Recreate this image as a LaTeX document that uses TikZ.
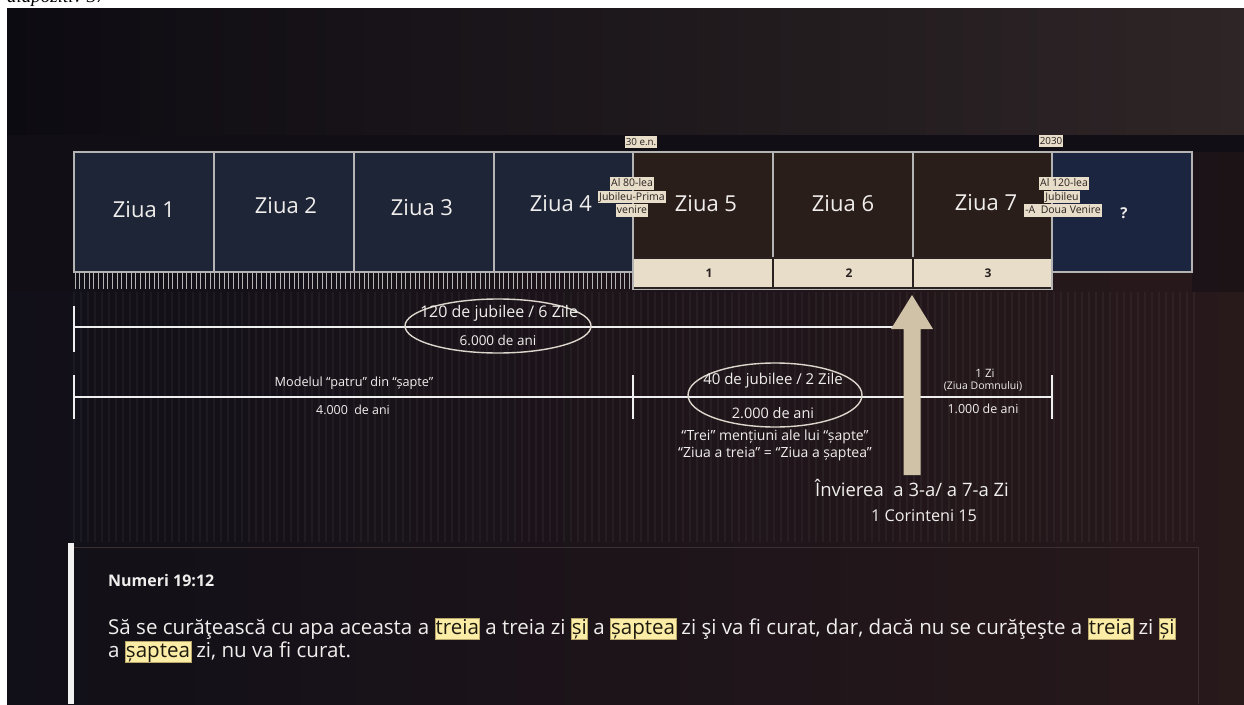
\documentclass[tikz,border=0pt]{standalone}
\usepackage{fontspec}
\setmainfont{Open Sans}
\newfontfamily\serifit{Liberation Serif}
\usetikzlibrary{shapes.geometric}
\definecolor{pagewhite}{HTML}{FFFFFF}
\definecolor{topleft}{HTML}{0D0B12}
\definecolor{topright}{HTML}{2E2526}
\definecolor{bandcol}{HTML}{110F15}
\definecolor{lowleft}{HTML}{110F18}
\definecolor{lowright}{HTML}{28191B}
\definecolor{navybox}{HTML}{1E2537}
\definecolor{brownbox}{HTML}{2A1E1B}
\definecolor{qbox}{HTML}{1C2540}
\definecolor{boxline}{HTML}{B4B4B4}
\definecolor{beige}{HTML}{E7DDC9}
\definecolor{tagtext}{HTML}{2A2220}
\definecolor{arrowcol}{HTML}{CFC2A6}
\definecolor{linecol}{HTML}{EEEEEE}
\definecolor{ellcol}{HTML}{DCD6CC}
\definecolor{txtcol}{HTML}{F0EEEC}
\definecolor{quoteline}{HTML}{3A3031}
\definecolor{hlfill}{HTML}{FBEDA6}
\definecolor{hlborder}{HTML}{B9A66A}
\definecolor{hltext}{HTML}{1E1A10}
\newcommand\hlw[1]{{\setlength{\fboxsep}{0.5pt}\setlength{\fboxrule}{0.5pt}\fcolorbox{hlborder}{hlfill}{\color{hltext}\vphantom{Şy}#1}}}
\newcommand\fs[1]{\fontsize{#1}{#1}\selectfont}
\begin{document}
\begin{tikzpicture}[x=1pt,y=-1pt,
  daybox/.style={draw=boxline,line width=1.3pt,inner sep=0pt,minimum width=140pt},
  bluebox/.style={daybox,fill=navybox,minimum height=120pt},
  brownday/.style={daybox,fill=brownbox,minimum height=106pt},
  cell/.style={draw=tagtext,line width=1.2pt,fill=beige,inner sep=0pt,minimum width=140pt,minimum height=30pt},
  daylabel/.style={text=txtcol,font=\fs{22}},
  tag/.style={fill=beige,text=tagtext,inner xsep=1pt,inner ysep=0.3pt,text height=9pt,text depth=2.8pt,font=\fs{10.5}},
  smalltag/.style={tag,font=\fs{9.8}},
  wline/.style={draw=linecol,line width=2.4pt},
  tick/.style={draw=linecol,line width=2pt},
  ell/.style={draw=ellcol,line width=1.4pt,ellipse,inner sep=0pt},
  lbl/.style={text=txtcol,inner sep=0pt},
  ruler/.style={draw=boxline,line width=0.8pt},
  stripe/.style={draw=white,opacity=0.04,line width=1.2pt}]
\useasboundingbox (0,0) rectangle (1244,704);
% background
\fill[pagewhite] (0,0) rectangle (1244,704);
\node[anchor=base west,inner sep=0pt,font=\serifit\itshape\fs{19}] (slidetitle) at (7,2.5) {diapozitiv 37};
\fill[left color=lowleft,right color=lowright] (7,8) rectangle (1244,704);
\fill[left color=topleft,right color=topright] (7,8) rectangle (1244,135);
\fill[bandcol] (7,135) rectangle (1244,152);
\fill[bandcol,opacity=0.7] (7,152) rectangle (74,292);
\fill[bandcol,opacity=0.5] (1192,152) rectangle (1244,292);
% stripes
\foreach \i in {0,...,160} \draw[stripe] ({74+7*\i},292) -- ++(0,250);
% ruler
\foreach \i in {0,...,119} \draw[ruler] ({75+4.66*\i},273) -- ++(0,16);
% day boxes
\node[bluebox] (d1) at (144,212) {};
\node[bluebox] (d2) at (284,212) {};
\node[bluebox] (d3) at (424,212) {};
\node[bluebox,minimum width=139pt] (d4) at (563.5,212) {};
\node[brownday] (d5) at (703,205) {};
\node[brownday] (d6) at (843,205) {};
\node[brownday,minimum width=139pt] (d7) at (982.5,205) {};
\node[bluebox,fill=qbox] (dq) at (1122,212) {};
\node[cell] (c1) at (703,273) {};
\node[cell] (c2) at (843,273) {};
\node[cell,minimum width=139pt] (c3) at (982.5,273) {};
\draw[boxline,line width=1.3pt] (633,152) rectangle (1052,289.5);
% numbers
\node[text=tagtext,font=\bfseries\fs{12}] (n1) at (709,273.5) {1};
\node[text=tagtext,font=\bfseries\fs{12}] (n2) at (849,273.5) {2};
\node[text=tagtext,font=\bfseries\fs{12}] (n3) at (988,273.5) {3};
% day labels
\node[daylabel] (z1) at (144,210) {Ziua 1};
\node[daylabel] (z2) at (286,206) {Ziua 2};
\node[daylabel] (z3) at (422,208) {Ziua 3};
\node[daylabel] (z4) at (561,204) {Ziua 4};
\node[daylabel] (z5) at (706,204) {Ziua 5};
\node[daylabel] (z6) at (843,204) {Ziua 6};
\node[daylabel] (z7) at (986,203) {Ziua 7};
\node[text=txtcol,font=\bfseries\fs{15}] (zq) at (1124,213) {?};
% small tags
\node[smalltag] (t30) at (641,142) {30 e.n.};
\node[smalltag] (t2030) at (1051,141) {2030};
\node[tag] (a1) at (632,183.5) {Al 80-lea};
\node[tag] (a2) at (632,197) {Jubileu-Prima};
\node[tag] (a3) at (632,210.5) {venire};
\node[tag] (b1) at (1064,183.5) {Al 120-lea};
\node[tag] (b2) at (1062,197) {Jubileu};
\node[tag] (b3) at (1063,210.5) {-A\ \ Doua Venire};
% timeline 1
\coordinate (l1a) at (74,327);
\coordinate (l1b) at (906,327);
\draw[wline] (l1a) -- (l1b);
\draw[tick] (74,306) -- (74,352);
\node[ell,minimum width=186pt,minimum height=54pt] (e1) at (498,326) {};
\node[lbl,font=\fs{16}] (e1t) at (499,313) {120 de jubilee / 6 Zile};
\node[lbl,font=\fs{13.5}] (e1b) at (498,340) {6.000 de ani};
% timeline 2
\coordinate (l2a) at (74,397);
\coordinate (l2b) at (1052,397);
\draw[wline] (l2a) -- (l2b);
\foreach \x/\n in {74/ta,633/tb,1052/tc} \draw[tick] (\x,375) -- (\x,419);
\node[lbl,font=\fs{12.7}] (m1) at (354,383) {Modelul “patru” din “șapte”};
\node[lbl,font=\fs{12.4}] (m2) at (353,410) {4.000\ \ de ani};
\node[ell,minimum width=174pt,minimum height=64pt] (e2) at (775,395) {};
\node[lbl,font=\fs{15}] (e2t) at (773,381) {40 de jubilee / 2 Zile};
\node[lbl,font=\fs{14.5}] (e2b) at (773,413) {2.000 de ani};
\node[lbl,font=\fs{14}] (tr1) at (775,437) {“Trei” mențiuni ale lui “șapte”};
\node[lbl,font=\fs{14}] (tr2) at (775,454) {“Ziua a treia” = “Ziua a șaptea”};
\node[lbl,font=\fs{11.5}] (zi1) at (985,373) {1 Zi};
\node[lbl,font=\fs{10.5}] (zi2) at (983,386) {(Ziua Domnului)};
\node[lbl,font=\fs{12.5}] (zi3) at (983,409) {1.000 de ani};
% resurrection arrow
\fill[arrowcol] (912,295) -- (933,329) -- (920.5,329) -- (920.5,475) -- (903.5,475) -- (903.5,329) -- (891,329) -- cycle;
\node[lbl,font=\fs{18.5}] (inv) at (912,488) {Învierea\ \ a 3-a/ a 7-a Zi};
\node[lbl,font=\fs{16.2}] (cor) at (924,516) {1 Corinteni 15};
% quote box
\draw[quoteline,line width=1pt] (74,547) -- (1198,547) -- (1198,704);
\fill[white!95!black] (68,543) rectangle (74,704);
\node[lbl,anchor=base west,font=\bfseries\fs{16}] (qref) at (108,586) {Numeri 19:12};
\node[lbl,anchor=base west,font=\fs{20.55}] (ql1) at (108,634) {Să se curăţească cu apa aceasta a \hlw{treia} a treia zi \hlw{și} a \hlw{șaptea} zi şi va fi curat, dar, dacă nu se curăţeşte a \hlw{treia} zi \hlw{și}};
\node[lbl,anchor=base west,font=\fs{20.55}] (ql2) at (108,657) {a \hlw{șaptea} zi, nu va fi curat.};
\end{tikzpicture}
\end{document}
